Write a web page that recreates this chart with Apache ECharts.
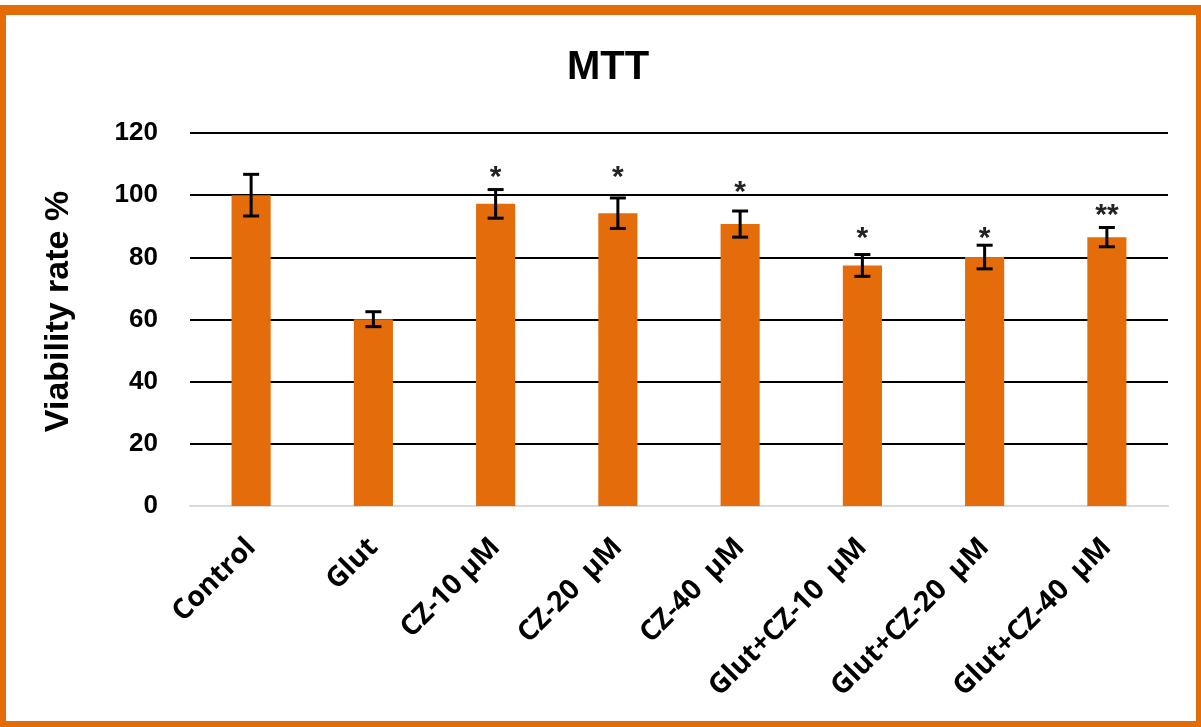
<!DOCTYPE html>
<html>
<head>
<meta charset="utf-8">
<script src="https://cdn.jsdelivr.net/npm/echarts@6/dist/echarts.min.js"></script>
<style>
html,body{margin:0;padding:0;background:#fff;}
#c{width:1201px;height:727px;}
</style>
</head>
<body>
<div id="c"></div>
<script>
const categories = ['Control', 'Glut', 'CZ-10 µM', 'CZ-20  µM', 'CZ-40  µM', 'Glut+CZ-10  µM', 'Glut+CZ-20  µM', 'Glut+CZ-40  µM'];
const means = [100, 60.1, 97.2, 94.2, 90.7, 77.4, 80.1, 86.5];
const errors = [6.7, 2.4, 4.6, 4.9, 4.2, 3.5, 3.8, 3.1];
const signif = ['', '', '*', '*', '*', '*', '*', '**'];
// height (in axis units) where each significance mark is centred
const signifAt = [null, null, 107.4, 107.4, 102.6, 87.8, 87.9, 95.2];
const yTicks = [0, 20, 40, 60, 80, 100, 120];

const chart = echarts.init(document.getElementById('c'));
const errData = means.map((m, i) => [i, m - errors[i], m + errors[i], signifAt[i] == null ? 0 : signifAt[i]]);

chart.setOption({
  animation: false,
  backgroundColor: '#ffffff',
  graphic: [
    { type: 'rect', z: -10, silent: true, shape: { x: 0, y: 5, width: 1201, height: 722 }, style: { fill: '#E36C09' } },
    { type: 'rect', z: -9, silent: true, shape: { x: 6, y: 15, width: 1190, height: 706 }, style: { fill: '#ffffff' } }
  ],
  title: {
    text: 'MTT',
    left: 603,
    top: 43,
    textAlign: 'center',
    textStyle: { fontFamily: 'Liberation Sans', fontWeight: 'bold', fontSize: 40, color: '#000' }
  },
  grid: { left: 190, right: 33, top: 133, bottom: 221, containLabel: false },
  xAxis: {
    type: 'category',
    data: categories,
    axisLine: { show: true, lineStyle: { color: '#d9d9d9', width: 2 } },
    axisTick: { show: false },
    axisLabel: {
      rotate: 45,
      interval: 0,
      margin: 37,
      fontFamily: 'Open Sans',
      fontWeight: 'bold',
      fontSize: 28,
      color: '#000'
    }
  },
  yAxis: {
    type: 'value',
    min: 0,
    max: 120,
    interval: 20,
    name: 'Viability rate %',
    nameLocation: 'middle',
    nameGap: 114,
    nameTextStyle: { fontFamily: 'Liberation Sans', fontWeight: 'bold', fontSize: 34, color: '#000', padding: [0, 0, 0, 16] },
    axisLine: { show: false },
    axisTick: { show: false },
    splitLine: { show: true, lineStyle: { color: '#000', width: 2 } },
    axisLabel: {
      margin: 32,
      fontFamily: 'Liberation Sans',
      fontWeight: 'bold',
      fontSize: 26,
      color: '#000',
      formatter: v => yTicks.includes(v) ? String(v) : ''
    }
  },
  series: [
    {
      type: 'bar',
      data: means,
      barWidth: '32%',
      itemStyle: { color: '#E46C0A' },
      z: 2
    },
    {
      type: 'custom',
      z: 5,
      data: errData,
      renderItem: function (params, api) {
        const x = api.value(0);
        const lo = api.coord([x, api.value(1)]);
        const hi = api.coord([x, api.value(2)]);
        const cap = 8;
        const st = { stroke: '#000', lineWidth: 3 };
        const children = [
          { type: 'line', shape: { x1: hi[0], y1: hi[1], x2: lo[0], y2: lo[1] }, style: st },
          { type: 'line', shape: { x1: hi[0] - cap, y1: hi[1], x2: hi[0] + cap, y2: hi[1] }, style: st },
          { type: 'line', shape: { x1: lo[0] - cap, y1: lo[1], x2: lo[0] + cap, y2: lo[1] }, style: st }
        ];
        const s = signif[params.dataIndex];
        if (s) {
          const p = api.coord([x, api.value(3)]);
          children.push({
            type: 'text',
            style: {
              text: s,
              x: p[0],
              y: p[1] + 21,
              align: 'center',
              verticalAlign: 'bottom',
              fill: '#222',
              font: 'bold 30px Liberation Sans'
            }
          });
        }
        return { type: 'group', children: children };
      }
    }
  ]
});
</script>
</body>
</html>
